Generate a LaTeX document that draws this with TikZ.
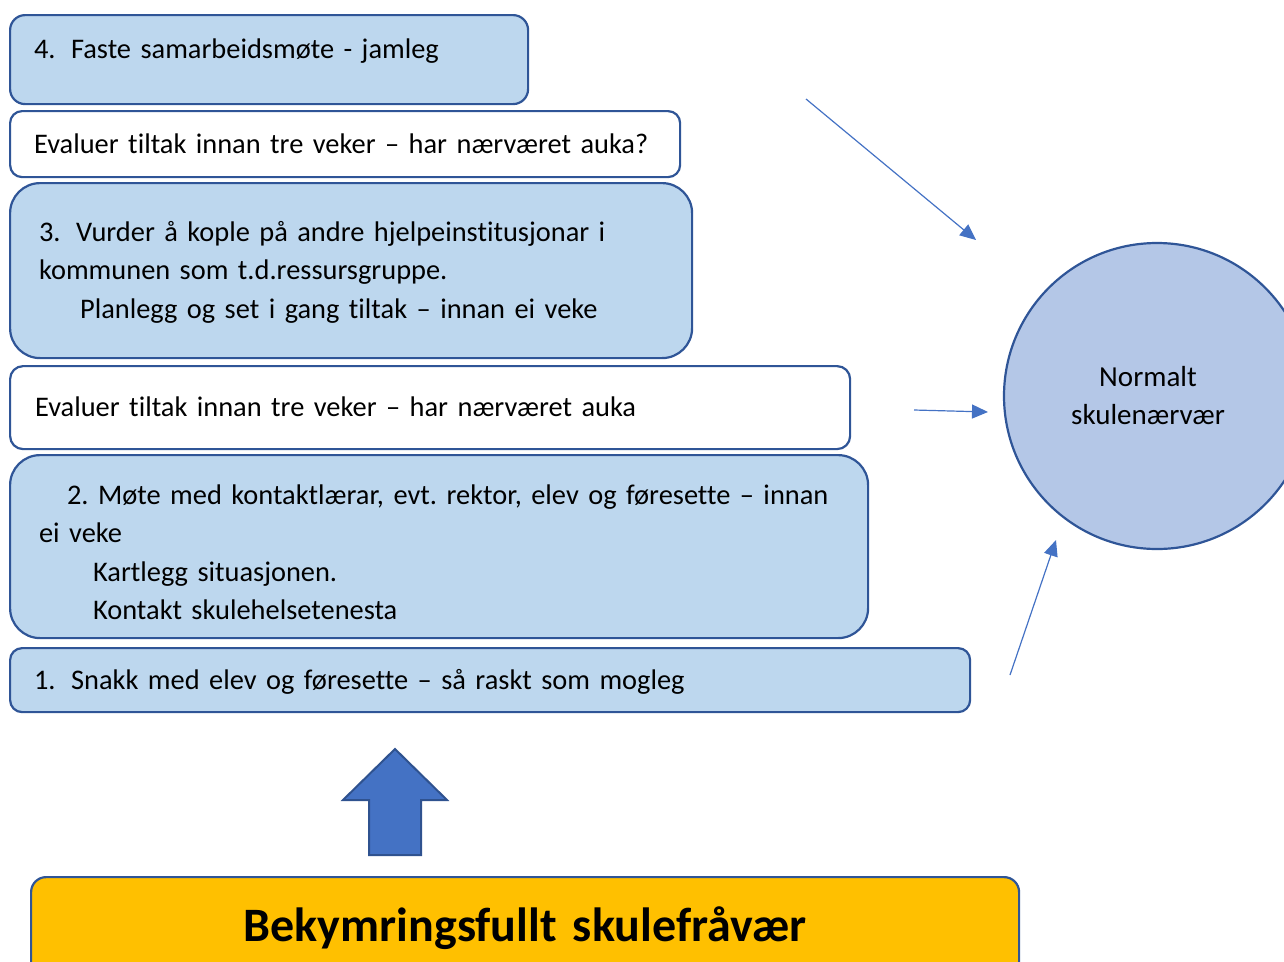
\documentclass[tikz,border=0pt]{standalone}
\usepackage{fontspec}
\setmainfont{Carlito}[Ligatures={TeX,NoCommon}]
\usepackage{xcolor}
\usepackage{tikz}
\usetikzlibrary{arrows.meta}
\definecolor{boxblue}{HTML}{BDD7EE}
\definecolor{rim}{HTML}{2F5597}
\definecolor{ringblue}{HTML}{B4C7E7}
\definecolor{arrblue}{HTML}{4472C4}
\definecolor{arrrim}{HTML}{2F528F}
\definecolor{gold}{HTML}{FFC000}
\newcommand{\num}[1]{\makebox[37pt][l]{#1}}
\frenchspacing

\begin{document}
\begin{tikzpicture}[x=1pt,y=-1pt,
  stepbox/.style={draw=rim,line width=2.2pt,fill=boxblue,anchor=north west,
              inner ysep=0pt,align=left,
              font=\fontsize{28.4}{38.5}\selectfont},
  evalbox/.style={stepbox,fill=white,rounded corners=13pt},
  goal/.style={circle,draw=rim,line width=2.2pt,fill=ringblue,minimum size=306pt,
              inner sep=0pt,align=center,font=\fontsize{29}{38}\selectfont},
  arr/.style={-{Triangle[length=16pt,width=14pt]},arrblue,line width=1.2pt}]

\useasboundingbox (0,0) rectangle (1284,961);

% the four steps, bottom up
\node[stepbox,rounded corners=12pt,inner xsep=24pt,text width=912pt,
  text height=41pt,text depth=23pt] (s1) at (9,647)
  {\num{1.}Snakk med elev og føresette – så raskt som mogleg};
\node[stepbox,rounded corners=30pt,inner xsep=29pt,text width=800pt,
  text height=49pt,text depth=134pt] (s2) at (9,454)
  {\hspace*{28pt}2. Møte med kontaktlærar, evt. rektor, elev og føresette – innan\\
   ei veke\\
   \hspace*{54pt}Kartlegg situasjonen.\\
   \hspace*{54pt}Kontakt skulehelsetenesta};
\node[evalbox,inner xsep=25pt,text width=790pt,
  text height=50pt,text depth=33pt] (e2) at (9,365)
  {Evaluer tiltak innan tre veker – har nærværet auka};
\node[stepbox,rounded corners=30pt,inner xsep=29pt,text width=624pt,
  text height=58pt,text depth=117pt] (s3) at (9,182)
  {\num{3.}Vurder å kople på andre hjelpeinstitusjonar i\\
   kommunen som t.d.ressursgruppe.\\
   \hspace*{41pt}Planlegg og set i gang tiltak – innan ei veke};
\node[evalbox,rounded corners=12pt,inner xsep=24pt,text width=622pt,
  text height=42pt,text depth=24pt] (e1) at (9,110)
  {Evaluer tiltak innan tre veker – har nærværet auka?};
\node[stepbox,rounded corners=15pt,inner xsep=24pt,text width=470pt,
  text height=43pt,text depth=46pt] (s4) at (9,14)
  {\num{4.}Faste samarbeidsmøte - jamleg};

% start
\node[stepbox,fill=gold,rounded corners=15pt,inner xsep=0pt,text width=988pt,
  align=center,text height=64pt,text depth=50pt,
  font=\fontsize{48}{54}\selectfont\bfseries] (worry) at (30,876)
  {Bekymringsfullt skulefråvær};
\draw[arrrim,line width=2pt,fill=arrblue]
  (395,749) -- (447,800) -- (421,800) -- (421,855) -- (369,855)
  -- (369,800) -- (343,800) -- cycle;

% goal
\node[goal] (ok) at (1157,396)
  {Normalt\hspace*{18pt}\\skulenærvær\hspace*{18pt}};

\coordinate (a1) at (806,99);   \coordinate (b1) at (976,240);
\coordinate (a2) at (914,410);  \coordinate (b2) at (988,412);
\coordinate (a3) at (1010,675); \coordinate (b3) at (1056,540);
\draw[arr] (a1) -- (b1);
\draw[arr] (a2) -- (b2);
\draw[arr] (a3) -- (b3);
\end{tikzpicture}
\end{document}
